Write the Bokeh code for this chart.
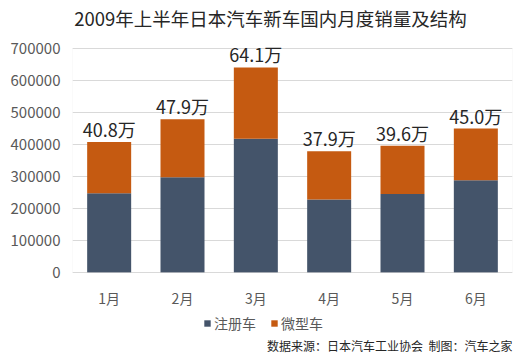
from bokeh.plotting import figure
from bokeh.models import ColumnDataSource, Legend, LegendItem, LabelSet, Label, FactorRange, BoxAnnotation
from bokeh.core.properties import value
from bokeh.embed import file_html
from bokeh.resources import INLINE

months = ["1月", "2月", "3月", "4月", "5月", "6月"]
registered = [248000, 298000, 418000, 228000, 245000, 288000]
totals = [408000, 479000, 641000, 379000, 396000, 450000]
mini = [t - r for t, r in zip(totals, registered)]
total_labels = [f"{t/10000:.1f}万" for t in totals]
series = ["注册车", "微型车"]
colors = ["#44546A", "#C55A11"]
title_text = "2009年上半年日本汽车新车国内月度销量及结构"
source_text = "数据来源：日本汽车工业协会\u00a0\u00a0制图：汽车之家"
y_ticks = [0, 100000, 200000, 300000, 400000, 500000, 600000, 700000]

FONT = "Noto Sans CJK SC"
W, H = 521, 356
YMAX = 700000
# layout in canvas pixels
F_LEFT, F_RIGHT, AXIS_TOP, AXIS_BOTTOM = 72, 512, 48, 272
UNITS_PER_PX = YMAX / (AXIS_BOTTOM - AXIS_TOP)
Y_START = -(H - AXIS_BOTTOM) * UNITS_PER_PX
Y_END = AXIS_BOTTOM * UNITS_PER_PX

def y_at(py):  # canvas pixel row -> data y
    return (AXIS_BOTTOM - py) * UNITS_PER_PX

def x_at(px):  # canvas pixel column -> categorical coordinate
    return (px - F_LEFT) / (F_RIGHT - F_LEFT) * len(months)

src = ColumnDataSource(dict(month=months, 注册车=registered, 微型车=mini,
                            total=totals, lab=total_labels,
                            ly=[y_at(297)] * len(months)))

p = figure(x_range=FactorRange(*months), y_range=(Y_START, Y_END), width=W, height=H,
           output_backend="svg", toolbar_location=None,
           min_border_left=F_LEFT, min_border_top=0, min_border_bottom=0,
           min_border_right=W - F_RIGHT)

rs = p.vbar_stack(series, x="month", width=0.6, color=colors, line_color=None, source=src)

p.xaxis.visible = False
p.yaxis.ticker = y_ticks
p.yaxis.formatter.use_scientific = False
p.yaxis.axis_line_color = None
p.yaxis.major_tick_line_color = None
p.yaxis.minor_tick_line_color = None
p.yaxis.major_tick_out = 0
p.yaxis.major_tick_in = 0
p.yaxis.minor_tick_out = 0
p.yaxis.major_label_text_font = FONT
p.yaxis.major_label_text_color = "#595959"
p.yaxis.major_label_text_font_size = "15px"
p.yaxis.major_label_standoff = 12
p.xgrid.grid_line_color = None
p.ygrid.grid_line_color = "#D9D9D9"
p.outline_line_color = None

box = BoxAnnotation(bottom=0, top=YMAX, fill_alpha=0, line_color="#D9D9D9", line_width=1)
p.add_layout(box)

labels = LabelSet(x="month", y="total", text="lab", source=src, text_align="center",
                  text_baseline="alphabetic", y_offset=5, text_font=value(FONT),
                  text_font_size=value("18px"), text_color="#262626")
p.add_layout(labels)

xlabels = LabelSet(x="month", y="ly", text="month", source=src, text_align="center",
                   text_baseline="middle", text_font=value(FONT), text_font_size=value("14px"),
                   text_color="#595959")
p.add_layout(xlabels)

p.add_layout(Label(x=x_at(270), y=y_at(17), text=title_text, text_align="center",
                   text_baseline="middle", text_font=FONT, text_font_size="18.5px",
                   text_color="#262626"))

p.add_layout(Label(x=x_at(512), y=y_at(345), text=source_text, text_align="right",
                   text_baseline="middle", text_font=FONT, text_font_size="12px",
                   text_color="#262626"))

legend = Legend(items=[LegendItem(label=s, renderers=[r]) for s, r in zip(series, rs)],
                orientation="horizontal", location=(131, 23),
                glyph_width=8, glyph_height=8, label_text_font=FONT,
                label_text_font_size="14px", label_text_color="#595959",
                padding=0, margin=0, spacing=14, label_standoff=3,
                border_line_color=None, background_fill_alpha=0)
p.add_layout(legend, "center")

open("out.html", "w").write(file_html(p, INLINE))
